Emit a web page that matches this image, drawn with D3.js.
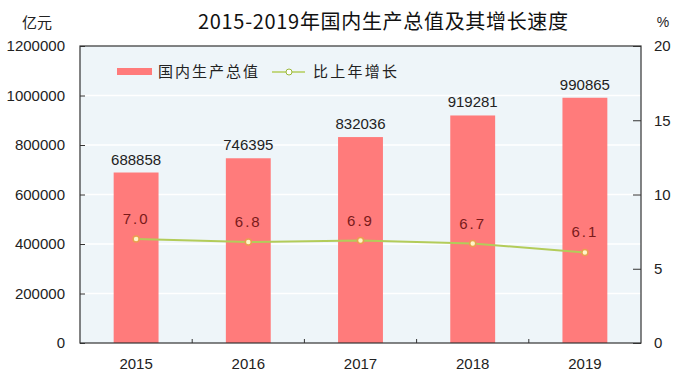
<!DOCTYPE html>
<html>
<head>
<meta charset="utf-8">
<script src="https://cdn.jsdelivr.net/npm/d3@7"></script>
<style>
  body { margin: 0; background: #fff; }
  text { font-family: "Liberation Sans", "Noto Sans CJK SC", sans-serif; }
  .cjk { font-family: "Noto Sans CJK SC", sans-serif; }
</style>
</head>
<body>
<div id="chart"></div>
<script>
var years = ["2015", "2016", "2017", "2018", "2019"];
var gdp = [688858, 746395, 832036, 919281, 990865];
var growth = [7.0, 6.8, 6.9, 6.7, 6.1];
var leftTicks = [0, 200000, 400000, 600000, 800000, 1000000, 1200000];
var rightTicks = [0, 5, 10, 15, 20];

var margin = {top: 46, right: 37, bottom: 31, left: 80},
    width = 678 - margin.left - margin.right,
    height = 374 - margin.top - margin.bottom;

var root = d3.select("#chart")
  .append("svg")
    .attr("width", 678)
    .attr("height", 374);

var svg = root.append("g")
    .attr("transform", "translate(" + margin.left + "," + margin.top + ")");

var x = d3.scaleBand()
  .domain(years)
  .range([0, width])
  .paddingInner(0.6)
  .paddingOuter(0.3);

var y = d3.scaleLinear()
  .domain([0, 1200000])
  .range([height, 0]);

var y2 = d3.scaleLinear()
  .domain([0, 20])
  .range([height, 0]);

// plot background
svg.append("rect")
  .attr("width", width)
  .attr("height", height)
  .attr("fill", "#eef5f9");

// white grid lines
svg.selectAll(".grid")
  .data(leftTicks.slice(1, -1))
  .enter().append("line")
    .attr("x1", 0)
    .attr("x2", width)
    .attr("y1", d => y(d))
    .attr("y2", d => y(d))
    .style("stroke", "#ffffff")
    .style("stroke-width", 1.5);

// bars
svg.selectAll(".bar")
  .data(gdp)
  .enter().append("rect")
    .attr("x", (d, i) => x(years[i]))
    .attr("y", d => y(d))
    .attr("width", x.bandwidth())
    .attr("height", d => height - y(d))
    .attr("fill", "#ff7b7b");

svg.selectAll(".barlabel")
  .data(gdp)
  .enter().append("text")
    .attr("x", (d, i) => x(years[i]) + x.bandwidth() / 2)
    .attr("y", d => y(d) - 8)
    .attr("text-anchor", "middle")
    .style("font-size", "15px")
    .style("fill", "#222")
    .text(d => d);

// growth line
var cx = (d, i) => x(years[i]) + x.bandwidth() / 2;
var line = d3.line()
  .x(cx)
  .y(d => y2(d));

svg.append("path")
  .datum(growth)
  .attr("d", line)
  .attr("fill", "none")
  .style("stroke", "#b3cc5a")
  .style("stroke-width", 2);

svg.selectAll(".dot")
  .data(growth)
  .enter().append("circle")
    .attr("cx", cx)
    .attr("cy", d => y2(d))
    .attr("r", 3)
    .attr("fill", "#fff6c8")
    .style("stroke", "#e8a050")
    .style("stroke-width", 1.5);

svg.selectAll(".growthlabel")
  .data(growth)
  .enter().append("text")
    .attr("x", cx)
    .attr("y", d => y2(d) - 15)
    .attr("text-anchor", "middle")
    .style("font-size", "15px")
    .style("letter-spacing", "2px")
    .style("fill", "#7a1a1a")
    .text(d => d.toFixed(1));

// axes
var yAxis = d3.axisLeft(y).tickValues(leftTicks).tickFormat(d3.format("d"))
  .tickSize(-5).tickPadding(15);
svg.append("g")
  .call(yAxis)
  .call(g => g.select(".domain").remove())
  .selectAll("text")
    .style("font-size", "15px")
    .style("fill", "#222");

var yAxis2 = d3.axisRight(y2).tickValues(rightTicks).tickSize(-8).tickPadding(13);
svg.append("g")
  .attr("transform", "translate(" + width + ",0)")
  .call(yAxis2)
  .call(g => g.select(".domain").remove())
  .selectAll("text")
    .style("font-size", "15px")
    .style("fill", "#222");

var xAxis = d3.axisBottom(x).tickSize(0).tickPadding(15);
svg.append("g")
  .attr("transform", "translate(0," + height + ")")
  .call(xAxis)
  .call(g => g.select(".domain").remove())
  .selectAll("text")
    .style("font-size", "15px")
    .style("fill", "#222");

// ticks between categories at the bottom
svg.selectAll(".sep")
  .data(years.slice(1))
  .enter().append("line")
    .attr("x1", d => x(d) - x.step() * x.paddingInner() / 2)
    .attr("x2", d => x(d) - x.step() * x.paddingInner() / 2)
    .attr("y1", height)
    .attr("y2", height - 4)
    .style("stroke", "#333");

svg.selectAll(".tick line").style("stroke", "#333");

// frame
svg.append("rect")
  .attr("width", width)
  .attr("height", height)
  .attr("fill", "none")
  .style("stroke", "#333")
  .style("stroke-width", 1.2);

// legend
var lg = svg.append("g").attr("transform", "translate(37,25)");
lg.append("rect")
  .attr("x", 0).attr("y", -3)
  .attr("width", 35).attr("height", 7)
  .attr("fill", "#ff7b7b");
lg.append("text")
  .attr("class", "cjk")
  .attr("x", 41).attr("y", 6)
  .attr("textLength", 100)
  .style("font-size", "15px")
  .style("fill", "#222")
  .text("国内生产总值");
lg.append("line")
  .attr("x1", 155).attr("x2", 188)
  .attr("y1", 1).attr("y2", 1)
  .style("stroke", "#b3cc5a")
  .style("stroke-width", 1.5);
lg.append("circle")
  .attr("cx", 172).attr("cy", 1).attr("r", 3)
  .attr("fill", "#fff")
  .style("stroke", "#9ab83a");
lg.append("text")
  .attr("class", "cjk")
  .attr("x", 196).attr("y", 6)
  .attr("textLength", 84)
  .style("font-size", "15px")
  .style("fill", "#222")
  .text("比上年增长");

// title and units
root.append("text")
  .attr("class", "cjk")
  .attr("x", 198).attr("y", 29)
  .attr("textLength", 370)
  .style("font-size", "20px")
  .style("font-weight", "400")
  .style("fill", "#111")
  .text("2015-2019年国内生产总值及其增长速度");

root.append("text")
  .attr("class", "cjk")
  .attr("x", 37).attr("y", 28)
  .attr("text-anchor", "middle")
  .style("font-size", "15px")
  .style("fill", "#222")
  .text("亿元");

root.append("text")
  .attr("x", 663).attr("y", 27)
  .attr("text-anchor", "middle")
  .style("font-size", "14px")
  .style("fill", "#222")
  .text("%");
</script>
</body>
</html>
